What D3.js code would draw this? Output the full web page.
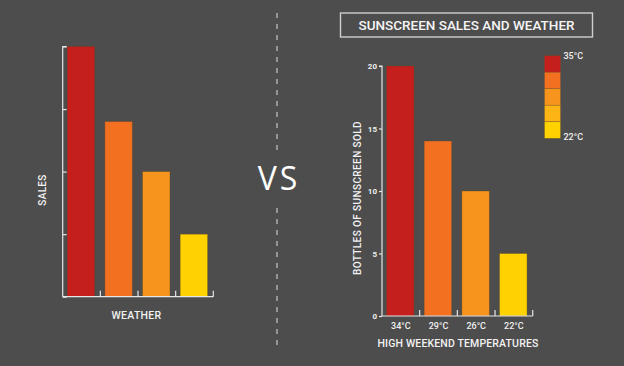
<!DOCTYPE html>
<html><head><meta charset="utf-8">
<script src="https://cdn.jsdelivr.net/npm/d3@7"></script>
<style>body{margin:0;background:#4d4d4d;}svg{display:block;}</style>
</head><body>
<script>
const categories = ["34°C", "29°C", "26°C", "22°C"];
const sales = [20, 14, 10, 5];
const yTicks = [0, 5, 10, 15, 20];
const barColors = ["#c41f1c", "#f37021", "#f7941d", "#ffd200"];
const legendColors = ["#c41f1c", "#f37021", "#f7941d", "#fdb515", "#ffd200"];
const legendLabels = ["35°C", "22°C"];
const title = "SUNSCREEN SALES AND WEATHER";

const W = 624, H = 366;
const svg = d3.select("body").append("svg").attr("width", W).attr("height", H);
svg.append("rect").attr("width", W).attr("height", H).attr("fill", "#4d4d4d");
const font = "Roboto, 'DejaVu Sans', sans-serif";
const axisColor = "#e6e6e6";

function drawChart(x0, x1, yBottom, yTop, showLabels) {
  const x = d3.scaleBand().domain(categories).range([x0, x1]);
  const y = d3.scaleLinear().domain([0, 20]).range([yBottom, yTop]);
  const g = svg.append("g");
  g.selectAll("rect.bar").data(categories).join("rect")
    .attr("class", "bar")
    .attr("x", d => x(d) + x.bandwidth() * 0.12)
    .attr("width", x.bandwidth() * 0.73)
    .attr("y", (d, i) => y(sales[i]))
    .attr("height", (d, i) => y(0) - y(sales[i]))
    .attr("fill", (d, i) => barColors[i])
    .attr("stroke", "rgba(90,70,40,0.45)").attr("stroke-width", 0.8);
  // y axis
  const ya = g.append("g").attr("transform", `translate(${x0},0)`)
    .call(showLabels ? d3.axisLeft(y).tickValues(yTicks).tickSize(3).tickPadding(2)
                     : d3.axisRight(y).tickValues(yTicks).tickSize(4).tickFormat(""));
  ya.select(".domain").attr("stroke", axisColor).attr("stroke-width", 1.2)
    .attr("d", `M${showLabels ? -3 : 4},${y(20)}H0V${y(0)}`);
  ya.selectAll(".tick line").attr("stroke", axisColor).attr("stroke-width", 1.2);
  ya.selectAll(".tick text").attr("fill", "#f0f0f0").attr("font-family", font)
    .attr("font-size", 8).attr("font-weight", 700);
  // x axis
  const xa = g.append("g").attr("transform", `translate(0,${y(0)})`)
    .call(d3.axisBottom(x).tickSize(0).tickPadding(7));
  xa.select(".domain").attr("stroke", axisColor).attr("stroke-width", 1.2)
    .attr("d", `M${x0},0H${x1}`);
  xa.selectAll(".tick line").remove();
  g.selectAll("line.sep").data(categories).join("line").attr("class", "sep")
    .attr("x1", d => x(d) + x.bandwidth()).attr("x2", d => x(d) + x.bandwidth())
    .attr("y1", y(0)).attr("y2", y(0) - 6)
    .attr("stroke", axisColor).attr("stroke-width", 1.2);
  xa.selectAll(".tick text").attr("fill", "#f0f0f0").attr("font-family", font)
    .attr("font-size", 9).attr("font-weight", 500)
    .style("display", showLabels ? null : "none");
  return {x, y};
}

// Left chart (unlabelled)
drawChart(62.7, 213.3, 296.7, 46.5, false);
svg.append("text").attr("x", 136.5).attr("y", 319).attr("text-anchor", "middle")
  .attr("fill", "#f2f2f2").attr("font-family", font).attr("font-size", 10.5).attr("font-weight", 500)
  .attr("letter-spacing", 0.3)
  .text("WEATHER");
svg.append("text").attr("transform", "translate(45.8,190) rotate(-90)").attr("text-anchor", "middle")
  .attr("fill", "#f2f2f2").attr("font-family", font).attr("font-size", 10).attr("font-weight", 500)
  .attr("letter-spacing", 0.3)
  .text("SALES");

// Right chart
drawChart(382, 532.7, 316, 66, true);
svg.append("text").attr("x", 458).attr("y", 346.5).attr("text-anchor", "middle")
  .attr("fill", "#f2f2f2").attr("font-family", font).attr("font-size", 10.5).attr("font-weight", 500)
  .attr("letter-spacing", 0.15)
  .text("HIGH WEEKEND TEMPERATURES");
svg.append("text").attr("transform", "translate(360.7,198) rotate(-90)").attr("text-anchor", "middle")
  .attr("fill", "#f2f2f2").attr("font-family", font).attr("font-size", 10).attr("font-weight", 500)
  .attr("letter-spacing", 0.4)
  .text("BOTTLES OF SUNSCREEN SOLD");

// Title box
svg.append("rect").attr("x", 340.5).attr("y", 13).attr("width", 252).attr("height", 24)
  .attr("fill", "none").attr("stroke", "#cfcfcf").attr("stroke-width", 1.4);
svg.append("text").attr("x", 466.5).attr("y", 29.5).attr("text-anchor", "middle")
  .attr("fill", "#f5f5f5").attr("font-family", font).attr("font-size", 13.5).attr("font-weight", 500)
  .text(title);

// Legend
const ly = d3.scaleBand().domain(d3.range(legendColors.length)).range([55.7, 138.3]);
svg.selectAll("rect.leg").data(legendColors).join("rect").attr("class", "leg")
  .attr("x", 544.5).attr("width", 16).attr("y", (d, i) => ly(i)).attr("height", ly.bandwidth())
  .attr("fill", d => d).attr("stroke", "rgba(110,80,40,0.5)").attr("stroke-width", 0.6);
svg.selectAll("text.leg").data(legendLabels).join("text").attr("class", "leg")
  .attr("x", 563.5).attr("y", (d, i) => i === 0 ? 59 : 139.5)
  .attr("fill", "#f0f0f0").attr("font-family", font).attr("font-size", 9).attr("font-weight", 500)
  .text(d => d);

// Divider
[[13, 151], [208, 347]].forEach(([a, b]) => {
  svg.append("line").attr("x1", 277).attr("x2", 277).attr("y1", a).attr("y2", b)
    .attr("stroke", "#bdbdbd").attr("stroke-width", 1.3).attr("stroke-dasharray", "5,6");
});
svg.append("text").attr("x", 279).attr("y", 190).attr("text-anchor", "middle")
  .attr("fill", "#ffffff").attr("font-family", "'Open Sans', sans-serif").attr("font-size", 32)
  .attr("letter-spacing", 3).attr("font-weight", 400)
  .text("VS");
</script>
</body></html>
